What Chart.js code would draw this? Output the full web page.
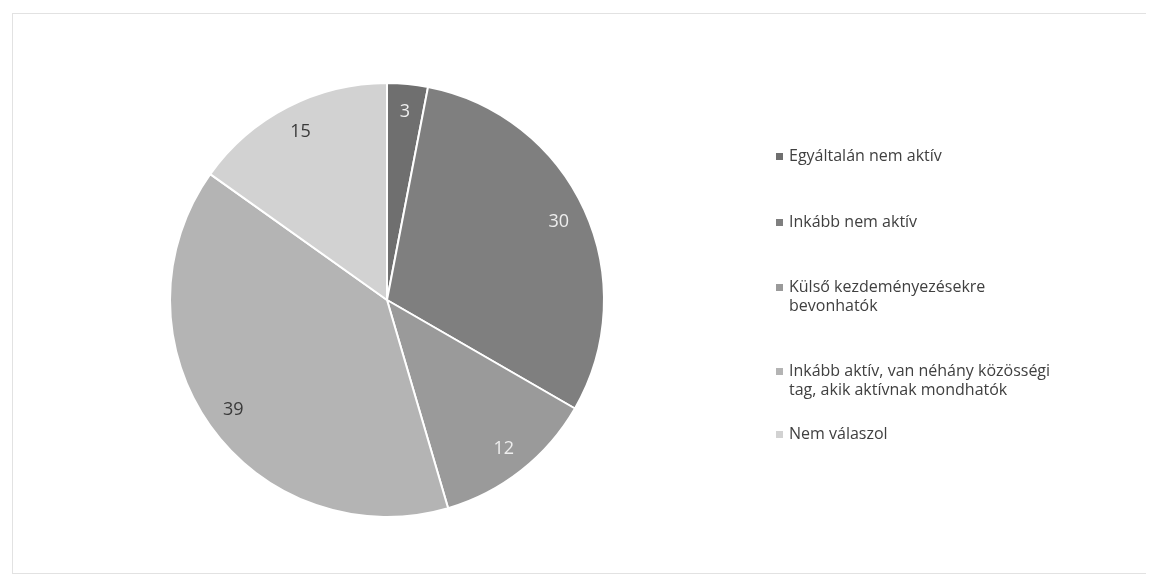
<!DOCTYPE html>
<html>
<head>
<meta charset="utf-8">
<script src="https://cdn.jsdelivr.net/npm/chart.js@4.4.0/dist/chart.umd.min.js"></script>
<style>
    html, body { margin: 0; padding: 0; background: #ffffff; }
    #wrap { position: relative; width: 1149px; height: 582px; overflow: hidden; }
    #frame {
        position: absolute; left: 12px; top: 13px; width: 1134px; height: 561px;
        border: 1px solid #e2e2e2; border-right: none; box-sizing: border-box;
    }
    #chart { position: absolute; left: 0; top: 0; }
    #legend {
        position: absolute; left: 776px; top: 0; width: 330px;
        font-family: 'Open Sans', 'Noto Sans', sans-serif; font-size: 16px;
        color: #404040; line-height: 19px;
    }
    .item { position: absolute; left: 0; display: flex; align-items: flex-start; }
    .box { width: 7px; height: 7px; margin-top: 7px; margin-right: 6px; flex: none; }
</style>
</head>
<body>
<div id="wrap">
    <div id="frame"></div>
    <canvas id="chart" width="1149" height="582"></canvas>
    <div id="legend"></div>
</div>
<script>
// Categories, in order clockwise from the top
const categories = [
    'Egyáltalán nem aktív',
    'Inkább nem aktív',
    'Külső kezdeményezésekre bevonhatók',
    'Inkább aktív, van néhány közösségi tag, akik aktívnak mondhatók',
    'Nem válaszol'
];
const values = [3, 30, 12, 39, 15];
const sliceColors = ['#6f6f6f', '#7f7f7f', '#9a9a9a', '#b4b4b4', '#d2d2d2'];
const labelColors = ['#eeeeee', '#eeeeee', '#eeeeee', '#3a3a3a', '#3a3a3a'];
// Legend lines as wrapped in the picture
const legendLines = [
    ['Egyáltalán nem aktív'],
    ['Inkább nem aktív'],
    ['Külső kezdeményezésekre', 'bevonhatók'],
    ['Inkább aktív, van néhány közösségi', 'tag, akik aktívnak mondhatók'],
    ['Nem válaszol']
];
const legendTops = [146, 212, 277, 361, 424];

// Draw the value labels inside each slice
const sliceLabels = {
    id: 'sliceLabels',
    afterDatasetsDraw(chart) {
        const ctx = chart.ctx;
        const meta = chart.getDatasetMeta(0);
        ctx.save();
        ctx.font = '18px "Open Sans", "Noto Sans", sans-serif';
        ctx.textAlign = 'center';
        ctx.textBaseline = 'middle';
        meta.data.forEach((arc, i) => {
            const p = arc.getProps(['x', 'y', 'startAngle', 'endAngle', 'outerRadius']);
            const mid = (p.startAngle + p.endAngle) / 2;
            const r = p.outerRadius * 0.87;
            ctx.fillStyle = labelColors[i];
            ctx.fillText(String(values[i]), p.x + Math.cos(mid) * r, p.y + Math.sin(mid) * r);
        });
        ctx.restore();
    }
};

const ctx = document.getElementById('chart').getContext('2d');
new Chart(ctx, {
    type: 'pie',
    data: {
        labels: categories,
        datasets: [{
            data: values,
            backgroundColor: sliceColors,
            borderColor: '#ffffff',
            borderWidth: 2
        }]
    },
    options: {
        responsive: false,
        animation: false,
        layout: {
            padding: { left: 169, right: 544, top: 82, bottom: 64 }
        },
        plugins: {
            legend: { display: false },
            tooltip: { enabled: false }
        }
    },
    plugins: [sliceLabels]
});

// Legend as HTML
const legend = document.getElementById('legend');
legendLines.forEach((lines, i) => {
    const item = document.createElement('div');
    item.className = 'item';
    item.style.top = legendTops[i] + 'px';
    const box = document.createElement('div');
    box.className = 'box';
    box.style.background = sliceColors[i];
    const text = document.createElement('div');
    text.innerHTML = lines.join('<br>');
    item.appendChild(box);
    item.appendChild(text);
    legend.appendChild(item);
});
</script>
</body>
</html>
